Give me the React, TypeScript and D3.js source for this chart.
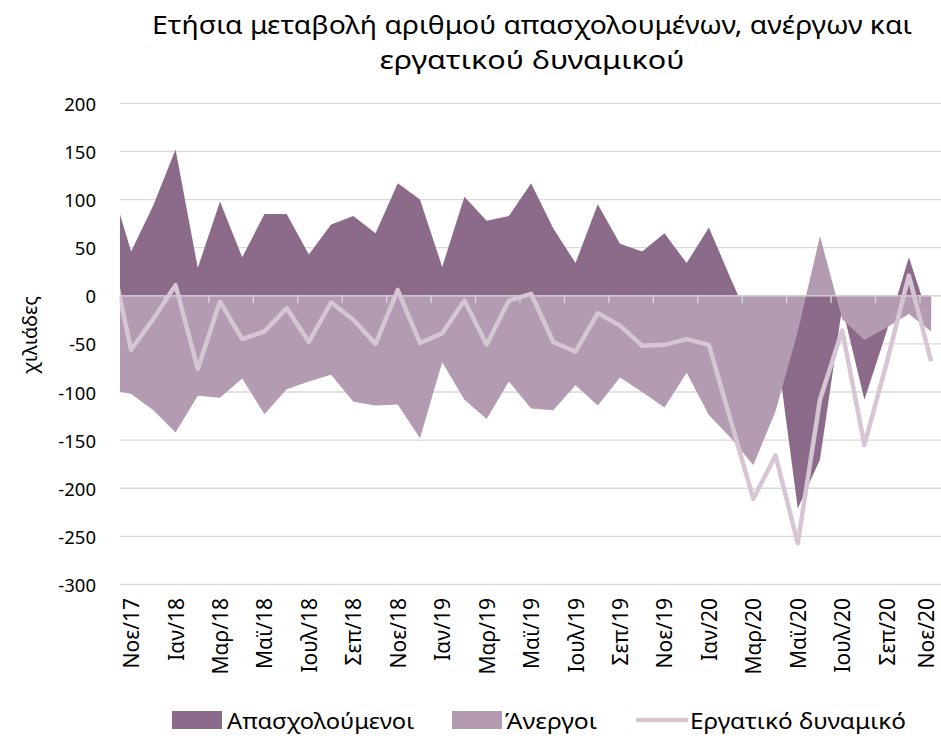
import React from "react";
import * as d3 from "d3";

const months: string[] = [
  "Οκτ/17", "Νοε/17", "Δεκ/17", "Ιαν/18", "Φεβ/18", "Μαρ/18", "Απρ/18", "Μαϊ/18", "Ιουν/18", "Ιουλ/18", "Αυγ/18", "Σεπ/18", "Οκτ/18",
  "Νοε/18", "Δεκ/18", "Ιαν/19", "Φεβ/19", "Μαρ/19", "Απρ/19", "Μαϊ/19", "Ιουν/19", "Ιουλ/19", "Αυγ/19", "Σεπ/19", "Οκτ/19",
  "Νοε/19", "Δεκ/19", "Ιαν/20", "Φεβ/20", "Μαρ/20", "Απρ/20", "Μαϊ/20", "Ιουν/20", "Ιουλ/20", "Αυγ/20", "Σεπ/20", "Οκτ/20", "Νοε/20",
];

const employed: number[] = [
  123, 46, 94, 152, 29, 98, 40, 85, 85, 43, 74, 83, 65,
  117, 100, 30, 103, 78, 83, 117, 70, 34, 95, 54, 46,
  65, 34, 71, 17, -35, -46, -221, -170, -12, -108, -37, 40, -31,
];

const unemployed: number[] = [
  -97, -102, -119, -142, -104, -106, -86, -123, -97, -89, -82, -110, -114,
  -113, -148, -69, -108, -128, -89, -117, -119, -93, -114, -85, -100,
  -116, -80, -124, -148, -176, -120, -37, 62, -24, -46, -33, -19, -37,
];

const labourForce: number[] = [
  51, -56, -24, 11, -76, -6, -45, -37, -13, -48, -7, -25, -50,
  6, -49, -39, -5, -51, -5, 2, -48, -58, -18, -31, -52,
  -51, -45, -51, -131, -211, -166, -257, -108, -36, -155, -70, 21, -68,
];

const yTicks: number[] = [200, 150, 100, 50, 0, -50, -100, -150, -200, -250, -300];

const titleLines: string[] = ["Ετήσια μεταβολή αριθμού απασχολουμένων, ανέργων και", "εργατικού δυναμικού"];
const seriesNames: string[] = ["Απασχολούμενοι", "Άνεργοι", "Εργατικό δυναμικό"];
const yAxisTitle = "χιλιάδες";

const COL_EMP = "#8C6B8A";
const COL_UNEMP = "#B39BB2";
const COL_LF = "#D6C6D4";
const GRID = "#D9D9D9";
const FONT = "'Noto Sans', 'Open Sans', sans-serif";

export default function App() {
  const W = 941;
  const H = 738;
  const left = 120;
  const right = 942.2;
  // index 0 is the first month (Οκτ/17), which lies half a category outside the plot
  const x = d3.scaleLinear().domain([0.5, 37.5]).range([left, right]);
  const y = d3.scaleLinear().domain([-300, 200]).range([584.5, 103.3]);

  const idx = months.map((_, i) => i);
  const areaGen = (vals: number[]) =>
    d3.area<number>().x((i) => x(i)).y0(y(0)).y1((i) => y(vals[i]))(idx) || "";
  const lineGen = d3.line<number>().x((i) => x(i)).y((i) => y(labourForce[i]))(idx) || "";

  const tickPos = d3.range(0, 19).map((k) => 0.5 + 2 * k);
  const labelIdx = d3.range(1, months.length, 2);

  return (
    <svg width={W} height={H} style={{ position: "absolute", left: 0, top: 0, background: "#fff" }} fontFamily={FONT}>
      <defs>
        <clipPath id="plotclip">
          <rect x={left} y={0} width={right - left} height={H} />
        </clipPath>
      </defs>
      {/* title */}
      <text x={532} y={34} textAnchor="middle" fontSize={26} fill="#000" textLength={760} lengthAdjust="spacingAndGlyphs">
        {titleLines[0]}
      </text>
      <text x={532} y={69} textAnchor="middle" fontSize={26} fill="#000" textLength={305} lengthAdjust="spacingAndGlyphs">
        {titleLines[1]}
      </text>

      {/* gridlines */}
      {yTicks.map((t) => (
        <line key={t} x1={left} x2={W} y1={y(t)} y2={y(t)} stroke={GRID} strokeWidth={1.3} />
      ))}

      {/* areas */}
      <g clipPath="url(#plotclip)">
        <path d={areaGen(employed)} fill={COL_EMP} />
        <path d={areaGen(unemployed)} fill={COL_UNEMP} />
      </g>

      {/* category axis */}
      <line x1={left} x2={W} y1={y(0)} y2={y(0)} stroke={GRID} strokeWidth={1.3} />
      {tickPos.map((t) => (
        <line key={t} x1={x(t)} x2={x(t)} y1={y(0)} y2={y(0) + 7} stroke={GRID} strokeWidth={1.3} />
      ))}

      {/* labour force line */}
      <g clipPath="url(#plotclip)">
        <path d={lineGen} fill="none" stroke={COL_LF} strokeWidth={4.5} strokeLinejoin="round" />
      </g>

      {/* y tick labels */}
      {yTicks.map((t) => (
        <text key={t} x={96} y={y(t)} textAnchor="end" dominantBaseline="central" fontSize={18.5} fill="#000">
          {t}
        </text>
      ))}

      {/* x labels */}
      {labelIdx.map((i) => (
        <text
          key={i}
          transform={`translate(${Math.min(x(i), 926)},${598}) rotate(-90)`}
          textAnchor="end"
          dominantBaseline="central"
          fontSize={21}
          fill="#000"
        >
          {months[i]}
        </text>
      ))}

      {/* y axis title */}
      <text transform="translate(29,335) rotate(-90)" textAnchor="middle" dominantBaseline="central" fontSize={20} fill="#000">
        {yAxisTitle}
      </text>

      {/* legend */}
      <rect x={172} y={711} width={50} height={18} fill={COL_EMP} />
      <text x={227} y={720} dominantBaseline="central" fontSize={22} fill="#000" textLength={187} lengthAdjust="spacingAndGlyphs">
        {seriesNames[0]}
      </text>
      <rect x={452} y={711} width={50} height={18} fill={COL_UNEMP} />
      <text x={505} y={720} dominantBaseline="central" fontSize={22} fill="#000" textLength={92} lengthAdjust="spacingAndGlyphs">
        {seriesNames[1]}
      </text>
      <line x1={636} x2={688} y1={720} y2={720} stroke={COL_LF} strokeWidth={4.5} />
      <text x={690} y={720} dominantBaseline="central" fontSize={22} fill="#000" textLength={216} lengthAdjust="spacingAndGlyphs">
        {seriesNames[2]}
      </text>
    </svg>
  );
}
